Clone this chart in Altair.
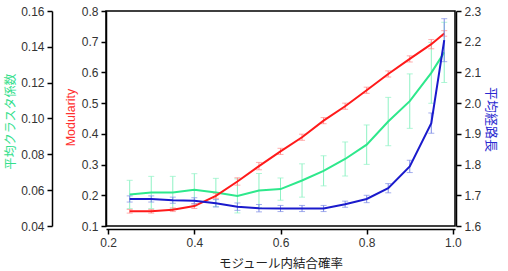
import altair as alt
import pandas as pd

# Intra-module connection probability
prob = [0.25, 0.30, 0.35, 0.40, 0.45, 0.50, 0.55, 0.60,
        0.65, 0.70, 0.75, 0.80, 0.85, 0.90, 0.95, 0.98]

# Modularity (mean and error)
modularity = [0.148, 0.148, 0.153, 0.165, 0.198, 0.245, 0.295, 0.343,
              0.389, 0.443, 0.490, 0.542, 0.595, 0.644, 0.692, 0.727]
modularity_err = [0.006, 0.006, 0.006, 0.008, 0.008, 0.012, 0.012, 0.010,
                  0.010, 0.010, 0.010, 0.010, 0.010, 0.010, 0.015, 0.009]

# Average clustering coefficient (mean and error)
clustering = [0.0576, 0.0587, 0.0587, 0.0602, 0.0587, 0.0568, 0.0598, 0.0606,
              0.0654, 0.0708, 0.0774, 0.0854, 0.0983, 0.1097, 0.1255, 0.1369]
clustering_err = [0.0079, 0.0090, 0.0090, 0.0090, 0.0079, 0.0095, 0.0095, 0.0062,
                  0.0093, 0.0084, 0.0095, 0.0110, 0.0135, 0.0152, 0.0170, 0.0168]

# Average path length (mean and error)
path_len = [1.688, 1.688, 1.684, 1.682, 1.674, 1.663, 1.658, 1.657,
            1.657, 1.657, 1.671, 1.688, 1.723, 1.794, 1.935, 2.205]
path_len_err = [0.010, 0.010, 0.010, 0.010, 0.012, 0.012, 0.012, 0.010,
                0.010, 0.010, 0.010, 0.012, 0.015, 0.020, 0.033, 0.070]

df = pd.DataFrame({
    "p": prob,
    "mod": modularity, "mod_err": modularity_err,
    "cc": clustering, "cc_err": clustering_err,
    "pl": path_len, "pl_err": path_len_err,
})
for key in ["mod", "cc", "pl"]:
    df[key + "_lo"] = df[key] - df[key + "_err"]
    df[key + "_hi"] = df[key] + df[key + "_err"]

LABEL_FONT = "Liberation Sans"
JP_FONT = "Noto Sans CJK JP"

x_axis = alt.Axis(
    values=[0.2, 0.4, 0.6, 0.8, 1.0], format=".1f", orient="bottom", offset=3,
    title="モジュール内結合確率", titleFont=JP_FONT, titleFontSize=12.5,
    titleFontWeight="normal", titleColor="#222222",
    titleX=174.5, titleY=34, titleAlign="center", titleBaseline="middle",
)
x_scale = alt.Scale(domain=[0.195, 1.005], nice=False, zero=False)


def series(key, color, err_color, domain, axis):
    y_scale = alt.Scale(domain=domain, nice=False, zero=False)
    base = alt.Chart(df)
    x = alt.X("p:Q", scale=x_scale, axis=x_axis)
    rules = base.mark_rule(color=err_color, strokeWidth=1).encode(
        x=x, y=alt.Y(f"{key}_lo:Q", scale=y_scale, axis=axis), y2=f"{key}_hi:Q")
    cap_lo = base.mark_tick(color=err_color, orient="horizontal", size=6, thickness=1).encode(
        x=x, y=alt.Y(f"{key}_lo:Q", scale=y_scale, axis=axis))
    cap_hi = base.mark_tick(color=err_color, orient="horizontal", size=6, thickness=1).encode(
        x=x, y=alt.Y(f"{key}_hi:Q", scale=y_scale, axis=axis))
    line = base.mark_line(color=color, strokeWidth=2).encode(
        x=x, y=alt.Y(f"{key}:Q", scale=y_scale, axis=axis))
    return alt.layer(rules, cap_lo, cap_hi, line)


cc_axis = alt.Axis(
    orient="left", offset=54, values=[0.04, 0.06, 0.08, 0.10, 0.12, 0.14, 0.16], format=".2f",
    title="平均クラスタ係数", titleFont=JP_FONT, titleFontSize=12, titleFontWeight="normal",
    titleColor="#33e08c", titleAngle=-90, titleX=-42, titleY=110,
    titleAlign="center", titleBaseline="middle",
)
mod_axis = alt.Axis(
    orient="left", offset=0, values=[0.1, 0.2, 0.3, 0.4, 0.5, 0.6, 0.7, 0.8], format=".1f",
    title="Modularity", titleFont=LABEL_FONT, titleFontSize=12.5, titleFontWeight="normal",
    titleColor="#ff3030", titleAngle=-90, titleX=-36, titleY=106,
    titleAlign="center", titleBaseline="middle",
)
pl_axis = alt.Axis(
    orient="right", offset=1, values=[1.6, 1.7, 1.8, 1.9, 2.0, 2.1, 2.2, 2.3], format=".1f",
    title="平均経路長", titleFont=JP_FONT, titleFontSize=13, titleFontWeight="normal",
    titleColor="#2a2ad0", titleAngle=90, titleX=34, titleY=108,
    titleAlign="center", titleBaseline="middle",
)

cc_layer = series("cc", "#2ee88c", "#8ef2c4", [0.04, 0.16], cc_axis)
mod_layer = series("mod", "#ff1a1a", "#ff8a8a", [0.1, 0.8], mod_axis)
pl_layer = series("pl", "#1a1acc", "#7d8ce6", [1.6, 2.3], pl_axis)

chart = (
    alt.layer(cc_layer, mod_layer, pl_layer)
    .resolve_scale(y="independent")
    .properties(
        width=349, height=215,
        autosize=alt.AutoSizeParams(type="none"),
        padding={"left": 106, "top": 11, "right": 53, "bottom": 45},
        background="white",
    )
    .configure_view(stroke="black", strokeWidth=1.5)
    .configure_axis(
        grid=False, domainColor="black", domainWidth=1.5, tickColor="black",
        tickWidth=1.5, tickSize=5, labelFont=LABEL_FONT, labelFontSize=12,
        labelColor="#333333", labelPadding=3, labelFlush=False, labelOverlap=False,
    )
)

chart.save("out.html", embed_options={"renderer": "svg", "actions": False})
